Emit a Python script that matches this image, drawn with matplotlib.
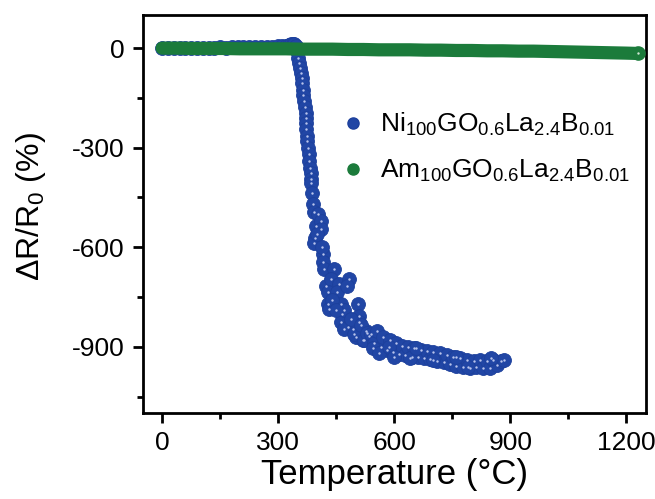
import matplotlib
matplotlib.use("Agg")
import matplotlib.pyplot as plt
from matplotlib.lines import Line2D

plt.rcParams['font.family'] = ['Liberation Sans', 'DejaVu Sans']
plt.rcParams['mathtext.fontset'] = 'custom'
plt.rcParams['mathtext.rm'] = 'Liberation Sans'
plt.rcParams['mathtext.it'] = 'Liberation Sans'
plt.rcParams['axes.unicode_minus'] = False

# Ni100GO0.6La2.4B0.01 : temperature (C) and dR/R0 (%)
ni_temp = [0, 15, 30, 45, 60, 75, 90, 105, 120, 135, 150, 165, 180, 195, 210, 225,
           240, 255, 270, 285, 300, 310, 320, 328, 334, 338, 342, 346, 349,
           352, 354, 357, 359, 361, 362, 364, 365, 367, 369, 371, 372, 372, 373,
           374, 375, 377, 379, 380, 382, 384, 385, 384, 386, 389, 393, 402, 397,
           410, 394, 410, 393, 400, 415, 412, 415, 419, 445, 423, 437, 458, 428,
           453, 484, 479, 428, 432, 462, 466, 505, 509, 462, 470, 509, 492, 480,
           501, 527, 535, 520, 440, 450, 470, 488, 496, 515, 522, 530,
           540, 548, 556, 565, 572, 580, 588, 596, 605, 612, 620, 628, 636, 645,
           652, 660, 668, 676, 684, 692, 700, 710, 718, 728, 736, 745, 752, 760,
           770, 778, 788, 796, 805, 812, 822, 830, 840, 848, 856, 866, 875, 884,
           545, 560, 585, 600, 640, 655, 700, 760, 790, 850]
ni_dr = [0, 0, 1, 0, 1, 0, 1, 0, 1, 1, 2, 1, 2, 2, 3, 2,
         3, 3, 4, 4, 5, 5, 6, 8, 12, 14, 12, 6, -8,
         -30, -45, -60, -75, -90, -105, -125, -140, -160, -178, -195, -210, -225, -245,
         -265, -280, -300, -318, -340, -360, -375, -395, -406, -436, -470, -493, -501, -536,
         -521, -571, -546, -586, -560, -621, -600, -645, -666, -665, -716, -696, -711, -736,
         -736, -696, -716, -771, -786, -771, -801, -771, -806, -826, -790, -826, -846, -840,
         -871, -851, -866, -880, -760, -790, -845, -815, -860, -835, -880, -858,
         -862, -890, -852, -900, -870, -910, -880, -915, -890, -922, -898, -925, -902, -930,
         -905, -932, -910, -935, -912, -938, -915, -942, -920, -945, -925, -952, -930, -958,
         -935, -962, -940, -963, -942, -960, -940, -963, -942, -964, -940, -955, -944, -941,
         -905, -920, -900, -930, -935, -905, -940, -932, -962, -935]

# Am100GO0.6La2.4B0.01 : nearly flat over the full range
am_temp = [0, 40, 80, 120, 160, 200, 240, 280, 320, 360, 400, 440, 480, 520, 560,
           600, 640, 680, 720, 760, 800, 840, 880, 920, 960, 1000, 1040, 1080,
           1120, 1160, 1200, 1230]
am_dr = [0, 0, -1, -1, -1, -2, -2, -2, -2, -3, -3, -3, -4, -4, -5,
         -5, -5, -6, -6, -7, -7, -8, -8, -9, -9, -10, -11, -12,
         -13, -14, -15, -16]

x_ticks = [0, 300, 600, 900, 1200]
y_ticks = [0, -300, -600, -900]

blue = '#2146a5'
blue_edge = '#1d409c'
green = '#1b7b3b'
shine = '#b9c4ec'

fig = plt.figure(figsize=(6.55, 4.99), dpi=100)
ax = fig.add_axes([0.218, 0.172, 0.768, 0.798])

# green set drawn as a dense band of overlapping spheres
ax.plot(am_temp, am_dr, '-', color=green, lw=9.5, solid_capstyle='round', zorder=3)
ax.scatter(am_temp[-1:], am_dr[-1:], s=90, color=green, edgecolor=green, zorder=4)
ax.scatter(am_temp[-1:], am_dr[-1:], s=3, color='#cfe6d3', lw=0, zorder=5)

# blue spheres with a small highlight
ax.scatter(ni_temp, ni_dr, s=100, color=blue, edgecolor=blue_edge, lw=0.6, zorder=2)
ax.scatter(ni_temp[27:], ni_dr[27:], s=3, color=shine, lw=0, zorder=2.5)

ax.set_xlim(-50, 1250)
ax.set_ylim(-1100, 100)
ax.set_xticks(x_ticks)
ax.set_yticks(y_ticks)
ax.set_xticks([150, 450, 750, 1050], minor=True)
ax.set_yticks([-150, -450, -750, -1050], minor=True)
ax.tick_params(which='major', direction='out', length=7, width=2, pad=6, labelsize=19)
ax.tick_params(which='minor', direction='out', length=4, width=2)
for s in ax.spines.values():
    s.set_linewidth(2)

ax.set_xlabel('Temperature (°C)', fontsize=25, labelpad=2)
ax.set_ylabel(r'$\Delta$R/R$_0$ (%)', fontsize=23)
ax.yaxis.set_label_coords(-0.188, 0.52)

handles = [
    Line2D([], [], ls='none', marker='o', ms=8, color=blue, mec=blue_edge),
    Line2D([], [], ls='none', marker='o', ms=8, color=green, mec=green),
]
labels = [r'$\mathregular{Ni_{100}GO_{0.6}La_{2.4}B_{0.01}}$',
          r'$\mathregular{Am_{100}GO_{0.6}La_{2.4}B_{0.01}}$']
ax.legend(handles, labels, loc='upper left', bbox_to_anchor=(0.37, 0.785),
          frameon=False, fontsize=19, handletextpad=0.55, labelspacing=0.75,
          borderaxespad=0, handlelength=1.0)

fig.savefig('out.png', dpi=100)
